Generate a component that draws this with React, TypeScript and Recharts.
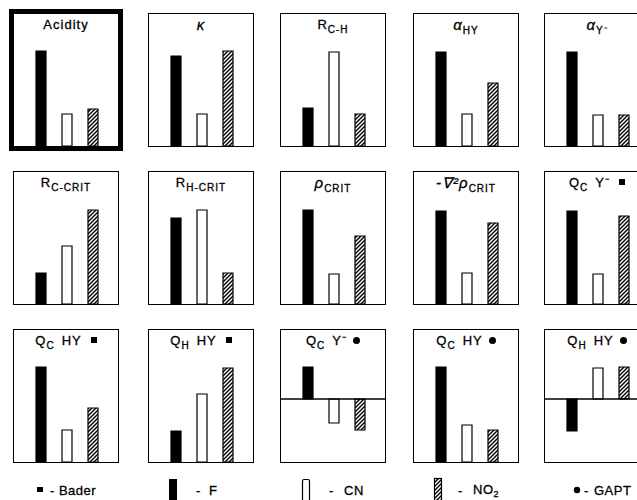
import { BarChart, Bar, XAxis, YAxis, Cell, ReferenceLine } from "recharts";

// bar order inside every panel
const categories = ["F", "CN", "NO2"];

// panel order: row by row, left to right
const fValues = [95, 90, 38, 94, 94, 31, 86, 94, 93, 93, 95, 31, 32, 95, -32];
const cnValues = [32, 32, 94, 32, 31, 58, 94, 30, 31, 30, 32, 68, -24, 37, 31];
const no2Values = [37, 95, 32, 63, 31, 94, 31, 68, 81, 88, 54, 94, -31, 32, 32];

const titleMain = ["Acidity", "κ", "R", "α", "α", "R", "R", "ρ", "-∇²ρ", "Q", "Q", "Q", "Q", "Q", "Q"];
const titleSub = ["", "", "C-H", "HY", "Y⁻", "C-CRIT", "H-CRIT", "CRIT", "CRIT", "C", "C", "H", "C", "C", "H"];
const titleRest = ["", "", "", "", "", "", "", "", "", "Y⁻", "HY", "HY", "Y⁻", "HY", "HY"];
const titleMarker = ["", "", "", "", "", "", "", "", "", "bader", "bader", "bader", "gapt", "gapt", "gapt"];

const colX = [13, 148, 280, 413, 544];
const rowY = [13, 171, 329];
const W = 106;
const H = 134;

const font = "'Liberation Sans', Arial, sans-serif";

function Marker({ kind }: { kind: string }) {
  if (kind === "bader")
    return <span style={{ display: "inline-block", width: 6, height: 6, background: "#000", marginLeft: 9, verticalAlign: 2 }} />;
  if (kind === "gapt")
    return <span style={{ display: "inline-block", width: 7, height: 7, borderRadius: 4, background: "#000", marginLeft: 6, verticalAlign: 1 }} />;
  return null;
}

function Panel({ i }: { i: number }) {
  const row = Math.floor(i / 5);
  const col = i % 5;
  const series = [fValues, cnValues, no2Values];
  const data = categories.map((c, k) => ({ name: c, value: series[k][i] }));
  const mixed = data.some((d) => d.value < 0);
  const b = i === 0 ? 5 : 1;
  const greek = ["κ", "α", "ρ", "-∇²ρ"].includes(titleMain[i]);

  return (
    <div
      style={{
        position: "absolute",
        left: colX[col] - (b - 1),
        top: rowY[row] - (b - 1),
        width: W - 2,
        height: H - 2,
        border: `${b}px solid #000`,
        background: "#fff",
      }}
    >
      <BarChart width={W - 2} height={H - 2} data={data} margin={{ top: 32, right: 0, bottom: 0, left: 0 }}>
        <defs>
          <pattern id={`hatch${i}`} width={4} height={4} patternUnits="userSpaceOnUse">
            <rect width={4} height={4} fill="#fff" />
            <path d="M-1,1 l2,-2 M0,4 l4,-4 M3,5 l2,-2" stroke="#000" strokeWidth={1.4} />
          </pattern>
        </defs>
        <XAxis dataKey="name" hide padding={{ left: 14, right: 12 }} />
        <YAxis hide domain={mixed ? [-63, 37] : [0, 100]} allowDataOverflow />
        {mixed && <ReferenceLine y={0} stroke="#000" strokeWidth={1.4} />}
        <Bar dataKey="value" barSize={10} isAnimationActive={false} stroke="#000" strokeWidth={1.2}>
          {data.map((d, k) => (
            <Cell key={d.name} fill={k === 0 ? "#000" : k === 1 ? "#fff" : `url(#hatch${i})`} />
          ))}
        </Bar>
      </BarChart>
      <div
        style={{
          position: "absolute",
          left: 0,
          right: 0,
          top: 4,
          textAlign: "center",
          fontFamily: font,
          fontSize: 13,
          lineHeight: "13px",
          letterSpacing: 1,
          whiteSpace: "nowrap",
          WebkitTextStroke: "0.3px #000",
        }}
      >
        <span style={{ fontStyle: greek ? "italic" : "normal", fontSize: greek ? 15 : 13 }}>{titleMain[i]}</span>
        {titleSub[i] && (
          <span style={{ fontSize: 10, position: "relative", top: 4 }}>{titleSub[i]}</span>
        )}
        {titleRest[i] && <span style={{ marginLeft: 7 }}>{titleRest[i]}</span>}
        <Marker kind={titleMarker[i]} />
      </div>
    </div>
  );
}

function Legend() {
  const t = { fontFamily: font, fontSize: 13, letterSpacing: 0.5, fill: "#000", stroke: "#000", strokeWidth: 0.3 } as const;
  return (
    <svg width={637} height={35} style={{ position: "absolute", left: 0, top: 465 }}>
      <defs>
        <pattern id="hatchLegend" width={4} height={4} patternUnits="userSpaceOnUse">
          <rect width={4} height={4} fill="#fff" />
          <path d="M-1,1 l2,-2 M0,4 l4,-4 M3,5 l2,-2" stroke="#000" strokeWidth={1.4} />
        </pattern>
      </defs>
      <rect x={37} y={22} width={6} height={5} fill="#000" />
      <text x={50} y={30} {...t}>- Bader</text>

      <rect x={169} y={14} width={8} height={22} fill="#000" />
      <text x={196} y={30} {...t}>-</text>
      <text x={209} y={30} {...t}>F</text>

      <rect x={302.5} y={14.5} width={7} height={22} rx={1.5} fill="#fff" stroke="#000" strokeWidth={1.2} />
      <text x={329} y={30} {...t}>-</text>
      <text x={344} y={30} {...t}>CN</text>

      <rect x={434.5} y={13.5} width={7} height={22} fill="url(#hatchLegend)" stroke="#000" strokeWidth={1.2} />
      <text x={458} y={30} {...t}>-</text>
      <text x={473} y={29} {...t}>
        NO<tspan fontSize={9} dy={3}>2</tspan>
      </text>

      <circle cx={577} cy={25} r={3.2} fill="#000" />
      <text x={584} y={30} {...t}>-</text>
      <text x={594} y={30} {...t}>GAPT</text>
    </svg>
  );
}

export default function App() {
  return (
    <div style={{ position: "absolute", left: 0, top: 0, width: 637, height: 500, background: "#fff", overflow: "hidden" }}>
      {fValues.map((_, i) => (
        <Panel key={i} i={i} />
      ))}
      <Legend />
    </div>
  );
}
